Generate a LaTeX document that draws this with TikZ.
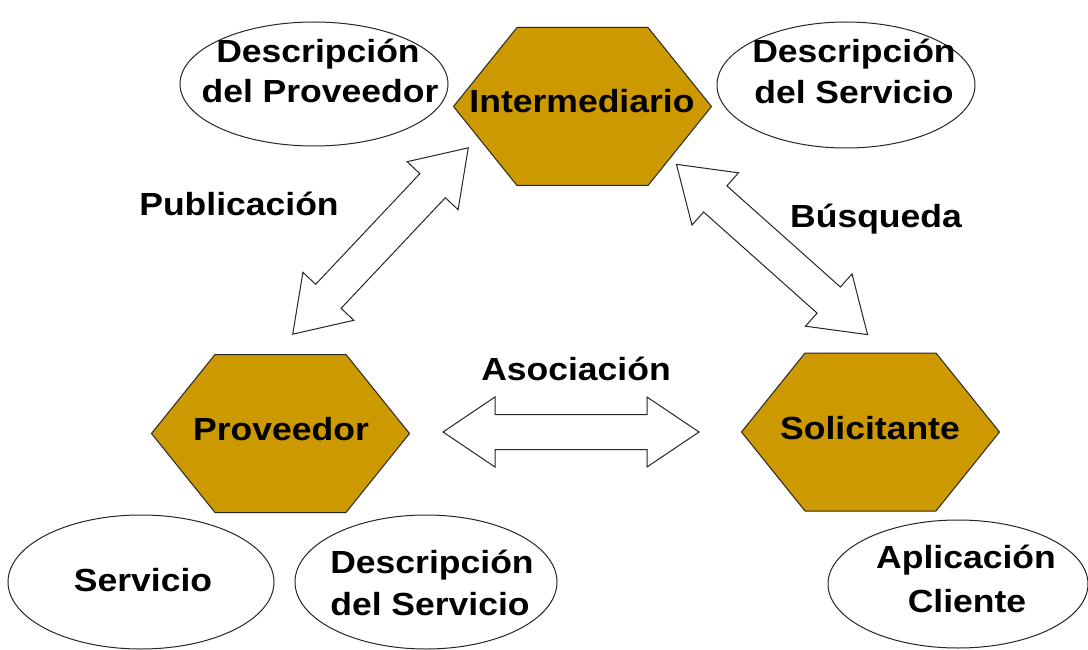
\documentclass[tikz,border=0pt]{standalone}
\usepackage{fontspec}
\setmainfont{Liberation Sans}[FakeStretch=1.11]
\usetikzlibrary{shapes.geometric,calc}
\definecolor{gold}{RGB}{204,153,0}
\tikzset{
  hexa/.style={draw=black!85, fill=gold, line width=1pt, line join=miter},
  ell/.style={ellipse, draw=black!85, line width=1pt, inner sep=0pt, fill=white},
  txt/.style={font=\fontsize{32}{40}\selectfont\bfseries, inner sep=0pt, anchor=base},
  blk/.style={draw=black!85, fill=white, line width=1pt, line join=miter},
  dblarrow/.pic={\draw[blk] (-128,0) -- (-76,35) -- (-76,17.5) -- (76,17.5) -- (76,35)
     -- (128,0) -- (76,-35) -- (76,-17.5) -- (-76,-17.5) -- (-76,-35) -- cycle;}
}
\newcommand\hexagonat[1]{%
  \draw[hexa] ($(#1)+(-129,0)$) -- ($(#1)+(-65.5,-79)$) -- ($(#1)+(65.5,-79)$)
    -- ($(#1)+(129,0)$) -- ($(#1)+(65.5,79)$) -- ($(#1)+(-65.5,79)$) -- cycle;}
\begin{document}
\begin{tikzpicture}[x=1pt,y=-1pt]
\useasboundingbox (0,0) rectangle (1088,650);
% ellipses
\node[ell, minimum width=268, minimum height=124] (eprov) at (314,84) {};
\node[ell, minimum width=258, minimum height=126] (eserv) at (846,85) {};
\node[ell, minimum width=266, minimum height=134] (eser) at (141,582) {};
\node[ell, minimum width=262, minimum height=134] (edesc) at (426,582) {};
\node[ell, minimum width=260, minimum height=128] (eapp) at (958,584) {};
\node[txt] (tprova) at (318,63) {Descripción};
\node[txt] (tprovb) at (320,103) {del Proveedor};
\node[txt] (tserva) at (854,63) {Descripción};
\node[txt] (tservb) at (854,104) {del Servicio};
\node[txt] (tser) at (143,591) {Servicio};
\node[txt] (tdesca) at (432,573) {Descripción};
\node[txt] (tdescb) at (430,615) {del Servicio};
\node[txt] (tappa) at (966,568) {Aplicación};
\node[txt] (tappb) at (967,612) {Cliente};
% hexagons
\coordinate (cI) at (582.5,106.5);
\coordinate (cP) at (280.5,433.5);
\coordinate (cS) at (870.5,432);
\hexagonat{cI}
\hexagonat{cP}
\hexagonat{cS}
\node[txt] (inter) at (582,113) {Intermediario};
\node[txt] (prov) at (281,440) {Proveedor};
\node[txt] (sol) at (870,439) {Solicitante};
% arrows
\pic[rotate=46.7] (apub) at (380.5,241) {dblarrow};
\pic[rotate=-41.7] (abus) at (772,249.5) {dblarrow};
\pic (aaso) at (571,432) {dblarrow};
% labels
\node[txt] (lpub) at (239,215) {Publicación};
\node[txt] (lbus) at (876,228) {Búsqueda};
\node[txt] (laso) at (576,380) {Asociación};
\end{tikzpicture}
\end{document}
